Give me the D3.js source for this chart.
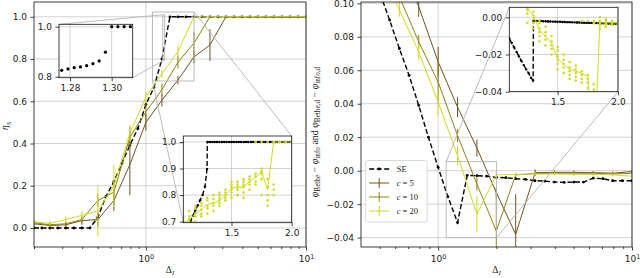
<!DOCTYPE html>
<html>
<head>
<meta charset="utf-8">
<script src="https://cdn.jsdelivr.net/npm/d3@7/dist/d3.min.js"></script>
<style>
  body { margin: 0; background: #fff; }
  #chart text { font-family: "DejaVu Sans", sans-serif; }
  #chart .math { font-family: "Liberation Serif", "DejaVu Serif", serif; }
</style>
</head>
<body>
<svg id="chart" width="640" height="278"></svg>
<script>
// ---------------- data ----------------
// state evolution (SE), coarse grid in Delta_I
const seX = [0.200, 0.224, 0.251, 0.282, 0.316, 0.355, 0.398, 0.447, 0.501, 0.562, 0.631, 0.708, 0.794, 0.891, 1.000, 1.122, 1.259, 1.413, 1.585, 1.778, 1.995, 2.239, 2.512, 2.818, 3.162, 3.548, 3.981, 4.467, 5.012, 5.623, 6.310, 7.079, 7.943, 8.913, 10.0];
const seEta = [0, 0, 0, 0, 0, 0, 0, 0, 0.05, 0.148, 0.22, 0.306, 0.392, 0.471, 0.585, 0.665, 0.80, 1, 1, 1, 1, 1, 1, 1, 1, 1, 1, 1, 1, 1, 1, 1, 1, 1, 1];
const sePhi = [0.26, 0.24, 0.22, 0.20, 0.18, 0.16, 0.14, 0.123, 0.106, 0.090, 0.073, 0.057, 0.039, 0.020, 0.002, -0.0155, -0.031,
  -0.0028, -0.003, -0.0033, -0.004, -0.0042, -0.0048, -0.0052, -0.006, -0.0062, -0.0068, -0.007, -0.0068, -0.0068, -0.0045, -0.0048, -0.006, -0.006, -0.006];

// finite-size runs, c = 5, 10, 20
const cX = [0.200, 0.251, 0.316, 0.398, 0.501, 0.631, 0.794, 1.000, 1.259, 1.585, 1.995, 2.512, 3.162, 3.981, 5.012, 6.310, 7.943, 10.0];
const eta5 = [0.02, 0.012, 0.015, 0.035, 0.04, 0.13, 0.30, 0.50, 0.605, 0.70, 0.81, 0.866, 1, 1, 1, 1, 1, 1];
const eta5Err = [0.008, 0.01, 0.01, 0.02, 0.035, 0.05, 0.145, 0.04, 0.03, 0.02, 0.03, 0.075, 0, 0, 0, 0, 0, 0];
const eta10 = [0.025, 0.015, 0.02, 0.04, 0.13, 0.17, 0.43, 0.55, 0.655, 0.785, 0.875, 1, 1, 1, 1, 1, 1, 1];
const eta10Err = [0.01, 0.01, 0.012, 0.015, 0.03, 0.06, 0.05, 0.05, 0.03, 0.03, 0.055, 0, 0, 0, 0, 0, 0, 0];
const eta20 = [0.03, 0.022, 0.04, 0.06, 0.08, 0.20, 0.45, 0.62, 0.73, 0.835, 1, 1, 1, 1, 1, 1, 1, 1];
const eta20Err = [0.01, 0.015, 0.015, 0.02, 0.12, 0.10, 0.04, 0.025, 0.02, 0.03, 0, 0, 0, 0, 0, 0, 0, 0];

const phi5 = [0.29, 0.26, 0.23, 0.19, 0.155, 0.125, 0.098, 0.065, 0.038, 0.0135, -0.013, -0.038, -0.0012, -0.001, -0.001, -0.0012, -0.0015, -0.0005];
const phi5Err = [0, 0, 0, 0, 0.005, 0.006, 0.006, 0.009, 0.006, 0.005, 0.003, 0.024, 0.002, 0.001, 0.001, 0.001, 0.001, 0.001];
const phi10 = [0.27, 0.24, 0.21, 0.17, 0.135, 0.104, 0.077, 0.053, 0.021, -0.008, -0.036, -0.0025, -0.0017, -0.0015, -0.0015, -0.0015, -0.002, -0.0015];
const phi10Err = [0, 0, 0, 0, 0.004, 0.004, 0.004, 0.013, 0.004, 0.004, 0.024, 0.001, 0.001, 0.001, 0.001, 0.001, 0.001, 0.001];
const phi20 = [0.25, 0.22, 0.19, 0.155, 0.121, 0.096, 0.071, 0.041, 0.009, -0.026, -0.0025, -0.0022, -0.002, -0.002, -0.0022, -0.0022, -0.0025, -0.0033];
const phi20Err = [0, 0, 0, 0, 0.004, 0.004, 0.005, 0.008, 0.006, 0.011, 0.002, 0.001, 0.001, 0.001, 0.001, 0.001, 0.001, 0.001];

// SE, fine grid for the zoomed insets
const dX = [1.10, 1.12, 1.14, 1.16, 1.18, 1.20, 1.22, 1.24, 1.26, 1.28, 1.297,
  1.30, 1.32, 1.34, 1.36, 1.38, 1.40, 1.42, 1.44, 1.46, 1.48, 1.50, 1.52, 1.54, 1.56, 1.58, 1.60, 1.62, 1.64, 1.66, 1.68,
  1.70, 1.72, 1.74, 1.76, 1.78, 1.80, 1.82, 1.84, 1.86, 1.88, 1.90, 1.92, 1.94, 1.96, 1.98, 2.00];
const dEta = [0.645, 0.663, 0.683, 0.702, 0.722, 0.742, 0.762, 0.781, 0.80, 0.832, 0.898,
  1, 1, 1, 1, 1, 1, 1, 1, 1, 1, 1, 1, 1, 1, 1, 1, 1, 1, 1, 1, 1, 1, 1, 1, 1, 1, 1, 1, 1, 1, 1, 1, 1, 1, 1, 1];
const dPhi = [-0.0114, -0.0138, -0.0162, -0.0186, -0.021, -0.0234, -0.0257, -0.028, -0.030, -0.0325, -0.034,
  -0.0018, -0.0019, -0.0020, -0.0020, -0.0021, -0.0021, -0.0022, -0.0022, -0.0023, -0.0023, -0.0024, -0.0024, -0.0025, -0.0025,
  -0.0026, -0.0026, -0.0027, -0.0027, -0.0028, -0.0028, -0.0029, -0.0029, -0.0030, -0.0030, -0.0030, -0.0031, -0.0031, -0.0031,
  -0.0032, -0.0032, -0.0032, -0.0033, -0.0033, -0.0034, -0.0034, -0.0035];

// SE, very fine grid around the jump (top-left inset)
const aX = [1.276, 1.279, 1.282, 1.285, 1.288, 1.291, 1.294, 1.297, 1.300, 1.303, 1.306, 1.309];
const aEta = [0.8256, 0.831, 0.836, 0.839, 0.844, 0.852, 0.863, 0.898, 1, 1, 1, 1];

// c = 20 single runs in the insets
const sX = [1.10, 1.15, 1.20, 1.25, 1.30, 1.35, 1.40, 1.45, 1.50, 1.55, 1.60, 1.65, 1.70, 1.75, 1.80, 1.85, 1.90, 1.95, 2.00];
const sEtaMean = [0.69, 0.71, 0.73, 0.745, 0.765, 0.77, 0.78, 0.80, 0.825, 0.83, 0.83, 0.85, 0.865, 0.89, 0.82, 1, 1, 1, 1];
const sEtaRuns = [
  [0.66, 0.69, 0.70, 0.72], [0.69, 0.70, 0.71, 0.72, 0.74], [0.70, 0.72, 0.73, 0.75, 0.76],
  [0.72, 0.73, 0.745, 0.76, 0.77], [0.73, 0.75, 0.76, 0.78, 0.79], [0.74, 0.76, 0.77, 0.785, 0.80],
  [0.76, 0.77, 0.78, 0.79, 0.80, 0.81], [0.78, 0.79, 0.80, 0.81, 0.82], [0.79, 0.81, 0.82, 0.83, 0.84, 0.85],
  [0.80, 0.82, 0.83, 0.84, 0.85], [0.79, 0.81, 0.83, 0.84, 0.85, 0.86], [0.82, 0.84, 0.85, 0.86, 0.87],
  [0.84, 0.85, 0.87, 0.88, 1.0], [0.80, 0.86, 0.88, 0.89, 0.90, 1.0], [0.76, 0.78, 0.80, 0.83, 0.86, 1.0],
  [0.80, 0.82, 0.84, 1.0, 1.0], [1.0, 1.0], [1.0], [1.0]
];
const sPhiMean = [0.012, 0.010, 0.008, 0.005, 0.001, -0.007, -0.010, -0.014, -0.022, -0.025, -0.028, -0.029, -0.030, -0.032, -0.08, -0.003, -0.003, -0.003, -0.003];
const sPhiRuns = [
  [0.010, 0.012, 0.014], [0.008, 0.010, 0.012], [0.006, 0.008, 0.010],
  [-0.003, 0.002, 0.004, 0.005, 0.006], [-0.006, -0.003, -0.001, 0.001, 0.003], [-0.013, -0.010, -0.008, -0.006, -0.003, -0.002],
  [-0.015, -0.012, -0.010, -0.008, -0.005], [-0.020, -0.017, -0.015, -0.013, -0.010], [-0.028, -0.025, -0.023, -0.021, -0.018, -0.016],
  [-0.030, -0.027, -0.025, -0.023, -0.020], [-0.033, -0.031, -0.029, -0.027, -0.024], [-0.034, -0.032, -0.030, -0.028, -0.026],
  [-0.035, -0.033, -0.031, -0.029, -0.002], [-0.038, -0.035, -0.033, -0.031, -0.002], [-0.039, -0.036, -0.002, -0.003],
  [-0.006, -0.004, -0.003, -0.002, 0.000], [-0.005, -0.004, -0.003, -0.002, -0.001], [-0.004, -0.003, -0.002], [-0.004, -0.003, -0.002]
];

const legendLabels = ["SE", "5", "10", "20"];
const colSE = "#000000", col5 = "#6f5224", col10 = "#8e8215", col20 = "#cfdc1e";
const logMajor = [1, 10];
const minorLeft = [0.2, 0.3, 0.4, 0.5, 0.6, 0.7, 0.8, 0.9, 2, 3, 4, 5, 6, 7, 8, 9];
const minorRight = [0.5, 0.6, 0.7, 0.8, 0.9, 2, 3, 4, 5, 6, 7, 8, 9];

// ---------------- helpers ----------------
const svg = d3.select("#chart");
let nClip = 0;

function makeAxes(x, y) {
  const [xa, xb] = x.range(), [yb, ya] = y.range();
  const g = svg.append("g");
  const id = "clip" + nClip++;
  g.append("clipPath").attr("id", id).append("rect")
    .attr("x", xa).attr("y", ya).attr("width", xb - xa).attr("height", yb - ya);
  g.append("rect").attr("x", xa).attr("y", ya).attr("width", xb - xa).attr("height", yb - ya).attr("fill", "#fff");
  return {
    x, y, xa, xb, ya, yb, g,
    grid: g.append("g").attr("stroke", "#c6c6c6").attr("stroke-width", 0.8),
    plot: g.append("g").attr("clip-path", `url(#${id})`),
    frame: g.append("g")
  };
}

function finishAxes(ax, o) {
  o.xGrid.forEach(v => ax.grid.append("line").attr("x1", ax.x(v)).attr("x2", ax.x(v)).attr("y1", ax.ya).attr("y2", ax.yb));
  o.yTicks.forEach(v => ax.grid.append("line").attr("y1", ax.y(v)).attr("y2", ax.y(v)).attr("x1", ax.xa).attr("x2", ax.xb));

  const gx = ax.frame.append("g").attr("transform", `translate(0,${ax.yb})`)
    .call(d3.axisBottom(ax.x).tickValues(o.xTicks).tickSize(3.5).tickPadding(3.5).tickFormat(o.xFmt || (() => "")));
  if (o.xMinor) {
    ax.frame.append("g").attr("transform", `translate(0,${ax.yb})`)
      .call(d3.axisBottom(ax.x).tickValues(o.xMinor).tickSize(2).tickFormat(""));
  }
  ax.frame.append("g").attr("transform", `translate(${ax.xa},0)`)
    .call(d3.axisLeft(ax.y).tickValues(o.yTicks).tickSize(3.5).tickPadding(3.5).tickFormat(o.yFmt));

  if (o.log) {
    gx.selectAll(".tick text").each(function (d) {
      const t = d3.select(this).text("10").attr("dy", "0.85em");
      t.append("tspan").attr("dy", "-0.45em").attr("font-size", "6.5px").text(Math.round(Math.log10(d)));
    });
  }
  ax.frame.selectAll(".domain").remove();
  ax.frame.selectAll("g").attr("font-family", null).attr("font-size", null);
  ax.frame.selectAll(".tick line").attr("stroke", "#111").attr("stroke-width", 0.8);
  ax.frame.selectAll(".tick text").attr("font-size", "9px").attr("fill", "#222");
  ax.frame.append("rect").attr("x", ax.xa).attr("y", ax.ya).attr("width", ax.xb - ax.xa).attr("height", ax.yb - ax.ya)
    .attr("fill", "none").attr("stroke", "#111").attr("stroke-width", 0.8);
}

function linePath(ax, xs, ys, color, width, dash) {
  ax.plot.append("path")
    .datum(xs.map((v, i) => [v, ys[i]]))
    .attr("d", d3.line().x(d => ax.x(d[0])).y(d => ax.y(d[1])))
    .attr("fill", "none").attr("stroke", color).attr("stroke-width", width)
    .attr("stroke-dasharray", dash || null);
}

function dots(ax, pts, color, r) {
  ax.plot.append("g").selectAll("circle").data(pts).join("circle")
    .attr("cx", d => ax.x(d[0])).attr("cy", d => ax.y(d[1])).attr("r", r).attr("fill", color);
}

function seCurve(ax, xs, ys, withLine, r) {
  if (withLine) linePath(ax, xs, ys, colSE, 1.4, "5,2.5");
  dots(ax, xs.map((v, i) => [v, ys[i]]), colSE, r);
}

function errCurve(ax, xs, ys, es, color) {
  linePath(ax, xs, ys, color, 1);
  ax.plot.append("g").selectAll("line")
    .data(xs.map((v, i) => [v, ys[i], es[i]]).filter(d => d[2] > 0))
    .join("line")
    .attr("x1", d => ax.x(d[0])).attr("x2", d => ax.x(d[0]))
    .attr("y1", d => ax.y(d[1] - d[2])).attr("y2", d => ax.y(d[1] + d[2]))
    .attr("stroke", color).attr("stroke-width", 1);
}

function runsScatter(ax, xs, runs, mean) {
  const pts = [];
  xs.forEach((v, i) => runs[i].forEach(r => pts.push([v, r])));
  dots(ax, pts, col20, 1.3);
  linePath(ax, xs, mean, col20, 1);
}

// rectangle in the parent + two connector lines to the inset corners
function markInset(parent, inset, corners) {
  const [x0, x1] = inset.x.domain(), [y0, y1] = inset.y.domain();
  const r = { l: parent.x(x0), r: parent.x(x1), t: parent.y(y1), b: parent.y(y0) };
  const i = { l: inset.xa, r: inset.xb, t: inset.ya, b: inset.yb };
  const g = svg.append("g").attr("stroke", "#b4b4b4").attr("stroke-width", 0.9).attr("fill", "none");
  g.append("rect").attr("x", r.l).attr("y", r.t).attr("width", r.r - r.l).attr("height", r.b - r.t);
  corners.forEach(([h, v]) => g.append("line").attr("x1", r[h]).attr("y1", r[v]).attr("x2", i[h]).attr("y2", i[v]));
}

function subText(sel, x, y, parts, size, rotate) {
  const t = sel.append("text").attr("class", "math").attr("font-size", size + "px").attr("fill", "#222")
    .attr("text-anchor", "middle")
    .attr("transform", `translate(${x},${y})` + (rotate ? " rotate(-90)" : ""));
  let shifted = false;
  parts.forEach(p => {
    const s = t.append("tspan").text(p.t);
    if (p.it) s.attr("font-style", "italic");
    if (p.sub && !shifted) { s.attr("dy", size * 0.28).attr("font-size", (size * 0.72) + "px"); shifted = true; }
    else if (!p.sub && shifted) { s.attr("dy", -size * 0.28); shifted = false; }
    else if (p.sub) s.attr("font-size", (size * 0.72) + "px");
  });
  return t;
}

// ---------------- scales ----------------
const xL = d3.scaleLog().domain([0.2, 10]).range([34, 306]);
const yL = d3.scaleLinear().domain([-0.09, 1.07]).range([247, 2]);
const xR = d3.scaleLog().domain([0.4, 10]).range([361, 632]);
const yR = d3.scaleLinear().domain([-0.0456, 0.1008]).range([247, 2]);
const xA = d3.scaleLinear().domain([1.2747, 1.3101]).range([59, 132.7]);
const yA = d3.scaleLinear().domain([0.796, 1.0096]).range([77.7, 24.3]);
const xB = d3.scaleLinear().domain([1.1, 2.0]).range([183.3, 291.7]);
const yB = d3.scaleLinear().domain([0.696, 1.0225]).range([222.7, 136]);
const xC = d3.scaleLinear().domain([1.1, 2.0]).range([509.3, 618]);
const yC = d3.scaleLinear().domain([-0.04, 0.0054]).range([91.7, 7.3]);

const f1 = d3.format(".1f"), f2 = d3.format(".2f");

// ---------------- left panel ----------------
const L = makeAxes(xL, yL);
seCurve(L, seX, seEta, true, 1.4);
errCurve(L, cX, eta5, eta5Err, col5);
errCurve(L, cX, eta10, eta10Err, col10);
errCurve(L, cX, eta20, eta20Err, col20);
finishAxes(L, { xTicks: logMajor, xMinor: minorLeft, log: true, xFmt: d => d, xGrid: logMajor,
  yTicks: [0, 0.2, 0.4, 0.6, 0.8, 1.0], yFmt: f1 });

// ---------------- right panel ----------------
const R = makeAxes(xR, yR);
seCurve(R, seX, sePhi, true, 1.4);
errCurve(R, cX, phi5, phi5Err, col5);
errCurve(R, cX, phi10, phi10Err, col10);
errCurve(R, cX, phi20, phi20Err, col20);
finishAxes(R, { xTicks: logMajor, xMinor: minorRight, log: true, xFmt: d => d, xGrid: logMajor,
  yTicks: [-0.04, -0.02, 0, 0.02, 0.04, 0.06, 0.08, 0.10], yFmt: f2 });

// ---------------- insets ----------------
const A = makeAxes(xA, yA);
const B = makeAxes(xB, yB);
const C = makeAxes(xC, yC);
markInset(L, A, [["l", "t"], ["r", "b"]]);
markInset(L, B, [["r", "t"], ["l", "b"]]);
markInset(R, C, [["l", "t"], ["r", "b"]]);
// bring insets above the connectors
A.g.raise(); B.g.raise(); C.g.raise();

seCurve(A, aX, aEta, false, 1.6);
finishAxes(A, { xTicks: [1.28, 1.30], xFmt: f2, xGrid: [1.28, 1.30], yTicks: [0.8, 1.0], yFmt: f1 });

seCurve(B, dX, dEta, true, 1.2);
runsScatter(B, sX, sEtaRuns, sEtaMean);
finishAxes(B, { xTicks: [1.5, 2.0], xFmt: f1, xGrid: [1.5, 2.0], yTicks: [0.7, 0.8, 0.9, 1.0], yFmt: f1 });

seCurve(C, dX, dPhi, true, 1.2);
runsScatter(C, sX, sPhiRuns, sPhiMean);
finishAxes(C, { xTicks: [1.5, 2.0], xFmt: f1, xGrid: [1.5, 2.0], yTicks: [-0.04, -0.02, 0], yFmt: f2 });

// ---------------- legend ----------------
const lg = svg.append("g").attr("transform", "translate(365.7,160.5)");
lg.append("rect").attr("width", 61.5).attr("height", 61.5).attr("rx", 2)
  .attr("fill", "#fff").attr("fill-opacity", 0.85).attr("stroke", "#cfcfcf").attr("stroke-width", 0.8);
const legCols = [colSE, col5, col10, col20];
legendLabels.forEach((lab, i) => {
  const yy = 8.5 + i * 14;
  const row = lg.append("g").attr("transform", `translate(0,${yy})`);
  if (i === 0) {
    row.append("line").attr("x1", 3.5).attr("x2", 23.5).attr("stroke", colSE).attr("stroke-width", 1.4).attr("stroke-dasharray", "5,2.5");
    row.append("circle").attr("cx", 13.5).attr("r", 1.4).attr("fill", colSE);
    row.append("text").attr("class", "math").attr("x", 31).attr("dy", "0.35em").attr("font-size", "8.5px").attr("fill", "#222").text(lab);
  } else {
    row.append("line").attr("x1", 3.5).attr("x2", 23.5).attr("stroke", legCols[i]).attr("stroke-width", 1);
    row.append("line").attr("x1", 13.5).attr("x2", 13.5).attr("y1", -5).attr("y2", 5).attr("stroke", legCols[i]).attr("stroke-width", 1);
    const t = row.append("text").attr("class", "math").attr("x", 31).attr("dy", "0.35em").attr("font-size", "8.5px").attr("fill", "#222");
    t.append("tspan").attr("font-style", "italic").text("c");
    t.append("tspan").text(" = " + lab);
  }
});

// ---------------- axis labels ----------------
subText(svg, 170, 272.5, [{ t: "Δ" }, { t: "I", it: true, sub: true }], 9.5);
subText(svg, 496.5, 272.5, [{ t: "Δ" }, { t: "I", it: true, sub: true }], 9.5);
subText(svg, 8, 126, [{ t: "η", it: true }, { t: "S", it: true, sub: true }], 9.5, true);
subText(svg, 317.5, 132, [
  { t: "φ", it: true }, { t: "Bethe", sub: true }, { t: " − " }, { t: "φ", it: true }, { t: "info", sub: true },
  { t: "  and  " },
  { t: "φ", it: true }, { t: "Bethe,d", sub: true }, { t: " − " }, { t: "φ", it: true }, { t: "info,d", sub: true }
], 10, true);
</script>
</body>
</html>
